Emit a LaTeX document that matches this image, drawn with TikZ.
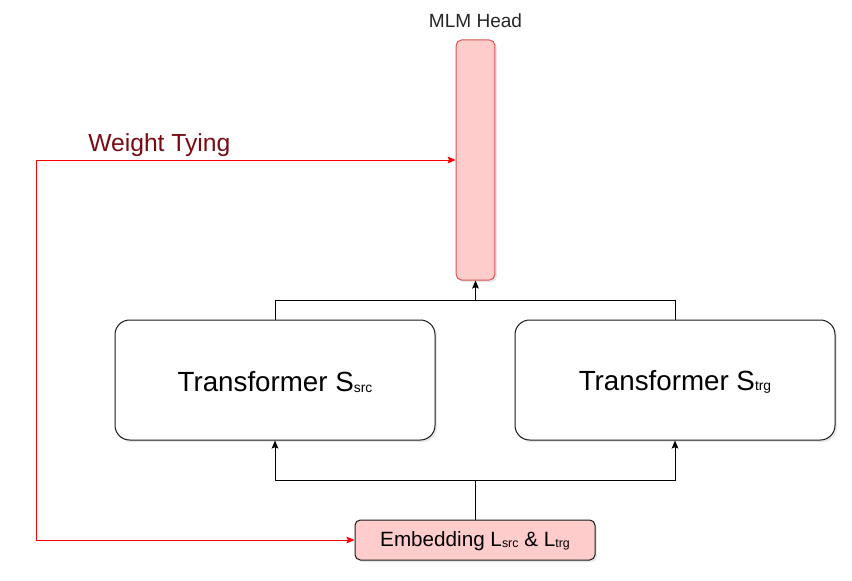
\documentclass[tikz,border=0pt]{standalone}
\usepackage{fontspec}
\setmainfont{Liberation Sans}
\usetikzlibrary{arrows.meta,shadows,positioning}
\definecolor{pinkfill}{HTML}{FFCCCC}
\definecolor{pinkline}{HTML}{D65555}
\definecolor{boxline}{HTML}{1A1A1A}
\definecolor{tyingred}{HTML}{7A0A12}
\tikzset{
  px/.style={x=0.75pt,y=-0.75pt},
  shad/.style={drop shadow={opacity=0.18,shadow xshift=1.5pt,shadow yshift=-1.5pt}},
  transbox/.style={draw=boxline,line width=0.75pt,fill=white,rounded corners=11pt,
    minimum width=240pt,minimum height=90pt,inner sep=0pt,shad,
    font=\fontsize{20.8pt}{24pt}\selectfont},
  embbox/.style={draw=boxline,line width=0.75pt,fill=pinkfill,rounded corners=4pt,
    minimum width=180pt,minimum height=30pt,inner sep=0pt,shad,
    font=\fontsize{15.5pt}{18pt}\selectfont},
  headbox/.style={draw=pinkline,line width=0.75pt,fill=pinkfill,rounded corners=4pt,
    minimum width=29pt,minimum height=180pt,inner sep=0pt,shad},
  conn/.style={draw=black,line width=0.75pt,-{Stealth[length=6pt,width=5pt,inset=1pt]}},
  redconn/.style={draw=red,line width=0.75pt,{Stealth[length=6pt,width=5pt,inset=1pt]}-{Stealth[length=6pt,width=5pt,inset=1pt]}},
  lbl/.style={inner sep=0pt}
}
\newcommand{\smallsub}[1]{\raisebox{-0.5pt}{\fontsize{10.4pt}{12pt}\selectfont #1}}
\newcommand{\embsub}[1]{\raisebox{-0.5pt}{\fontsize{9.3pt}{11pt}\selectfont #1}}
\begin{document}
\begin{tikzpicture}[px]
\useasboundingbox (0,0) rectangle (852,581);
\node[headbox] (head) at (475.5,160) {};
\node[lbl,font=\fontsize{14.3pt}{16pt}\selectfont,text=black!85] (headlbl) at (475.5,21) {MLM Head};
\node[transbox] (src) at (275,380) {};
\node[transbox] (trg) at (675,380) {};
\node[lbl,font=\fontsize{20.8pt}{24pt}\selectfont] (srclbl) at (275,382) {Transformer S\smallsub{src}};
\node[lbl,font=\fontsize{20.8pt}{24pt}\selectfont] (trglbl) at (675,382) {Transformer S\smallsub{trg}};
\node[embbox] (emb) at (475,540) {};
\node[lbl,font=\fontsize{15.5pt}{18pt}\selectfont] (emblbl) at (475,541.5) {Embedding L\embsub{src} \& L\embsub{trg}};
\node[lbl,anchor=west,font=\fontsize{18.5pt}{22pt}\selectfont,text=tyingred] (tying) at (88,145) {Weight Tying};
\coordinate (mid) at (475.5,300);
\coordinate (low) at (475,480);
\coordinate (corner) at (36,160);
% transformers to head
\draw[line width=0.75pt] (src.north) |- (mid);
\draw[line width=0.75pt] (trg.north) |- (mid);
\draw[conn] (mid) -- (head.south);
% embedding to transformers
\draw[line width=0.75pt] (emb.north) -- (low);
\draw[conn] (low) -| (src.south);
\draw[conn] (low) -| (trg.south);
% weight tying
\draw[redconn] (emb.west) -| (corner) -- (head.west |- corner);
\end{tikzpicture}
\end{document}
